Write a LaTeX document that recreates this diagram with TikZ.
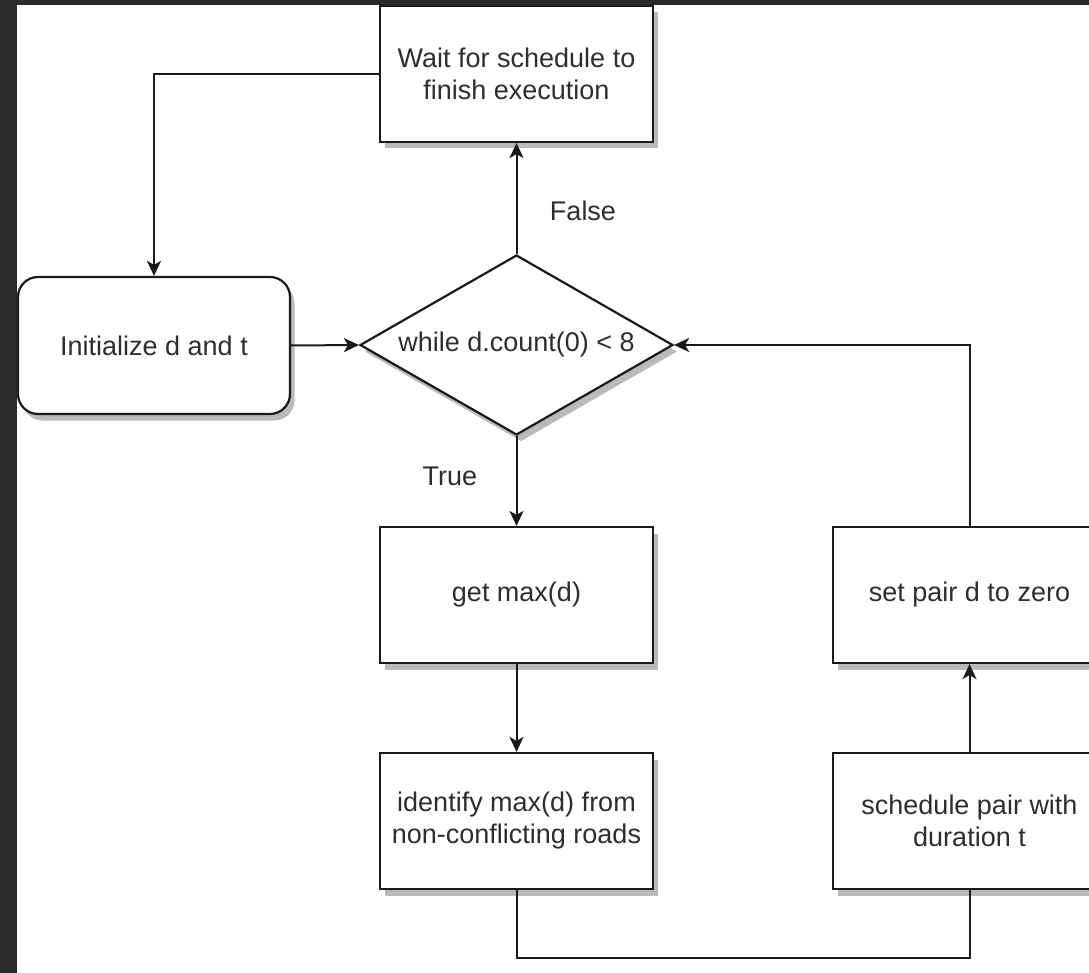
\documentclass[tikz,border=0pt]{standalone}
\usepackage{fontspec}
\setmainfont{Liberation Sans}
\usetikzlibrary{shapes.geometric,arrows.meta,shadows}

\definecolor{framebg}{HTML}{2A2A2C}
\definecolor{inkline}{HTML}{1A1A1A}
\definecolor{inktext}{HTML}{2E2E2E}

\begin{document}
\begin{tikzpicture}[x=1pt,y=-1pt,
  every node/.style={font=\fontsize{27}{32}\selectfont, text=inktext},
  shadowed/.style={drop shadow={shadow xshift=4.5pt, shadow yshift=-6.5pt, fill=black!27, opacity=1}},
  flowbase/.style={draw=inkline, line width=2.2pt, fill=white, shadowed, align=center, inner sep=0pt},
  procbox/.style={flowbase, rectangle, minimum width=273pt, minimum height=136pt},
  startbox/.style={flowbase, rectangle, rounded corners=20pt, minimum width=272pt, minimum height=137pt},
  decision/.style={flowbase, diamond, aspect=1.74, minimum width=313pt, minimum height=180pt},
  edgelabel/.style={inner sep=0pt},
  link/.style={draw=inkline, line width=2pt},
  arrowlink/.style={link, -{Stealth[length=15pt, width=14pt, inset=4pt]}}
]
  % page frame
  \useasboundingbox (0,0) rectangle (1089,973);
  \fill[framebg] (0,0) rectangle (1089,973);
  \fill[white] (17,5) rectangle (1089,973);

  % nodes
  \node[procbox]  (wait)   at (516.5,74)   {Wait for schedule to\\finish execution};
  \node[startbox] (init)   at (154,345.5)  {Initialize d and t};
  \node[decision] (cond)   at (516.5,345)  {while d.count(0) < 8};
  \node[procbox]  (getmax) at (516.5,595)  {get max(d)};
  \node[procbox]  (ident)  at (516.5,821)  {identify max(d) from\\non-conflicting roads};
  \node[procbox]  (sched)  at (969.5,821)  {schedule pair with\\duration t};
  \node[procbox]  (setz)   at (969.5,595)  {set pair d to zero};

  % branch labels
  \node[edgelabel] (lblfalse) at (583,211) {False};
  \node[edgelabel] (lbltrue)  at (450,476) {True};

  % connectors
  \coordinate (bend) at (969.5,958);
  \draw[arrowlink] (wait.west) -| (init.north);
  \draw[arrowlink] (init.east) -- (cond.west);
  \draw[arrowlink] (cond.north) -- (wait.south);
  \draw[arrowlink] (cond.south) -- (getmax.north);
  \draw[arrowlink] (getmax.south) -- (ident.north);
  \draw[link] (ident.south) |- (bend) -- (sched.south);
  \draw[arrowlink] (sched.north) -- (setz.south);
  \draw[arrowlink] (setz.north) |- (cond.east);
\end{tikzpicture}
\end{document}
